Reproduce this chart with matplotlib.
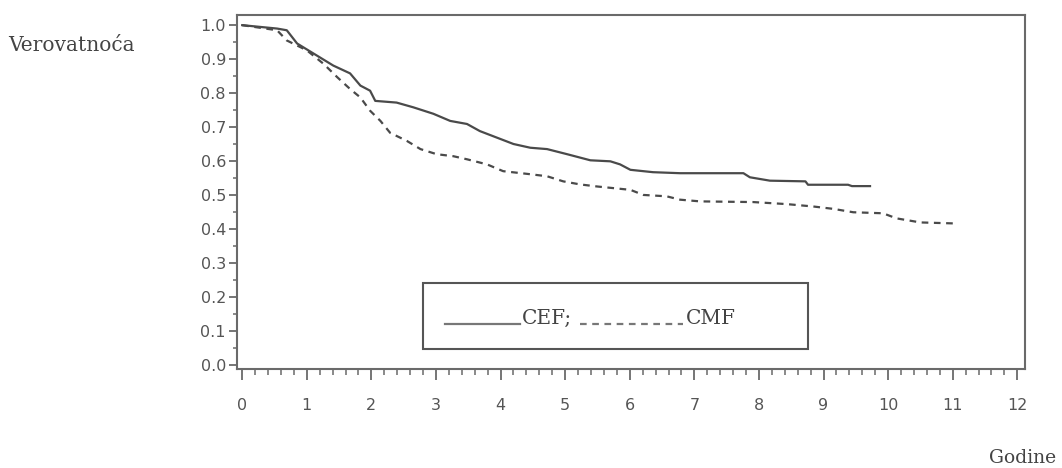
import matplotlib
matplotlib.use("Agg")
import matplotlib.pyplot as plt
from matplotlib.patches import Rectangle
from matplotlib.lines import Line2D
from matplotlib.ticker import MultipleLocator, FormatStrFormatter

# survival curves (years, probability)
cef_years = [0.0, 0.54, 0.69, 0.85, 1.10, 1.41, 1.67, 1.83, 1.98, 2.06, 2.39,
             2.65, 2.96, 3.22, 3.48, 3.68, 3.94, 4.20, 4.46, 4.72, 5.03, 5.39,
             5.70, 5.85, 6.01, 6.36, 6.78, 7.76, 7.86, 8.17, 8.72, 8.76, 9.38,
             9.44, 9.72]
cef_prob = [1.0, 0.99, 0.985, 0.946, 0.917, 0.881, 0.858, 0.822, 0.807, 0.777,
            0.772, 0.758, 0.739, 0.718, 0.709, 0.688, 0.669, 0.650, 0.639,
            0.635, 0.620, 0.602, 0.599, 0.590, 0.574, 0.567, 0.564, 0.564,
            0.552, 0.542, 0.540, 0.530, 0.530, 0.526, 0.526]

cmf_years = [0.0, 0.54, 0.69, 1.00, 1.26, 1.47, 1.67, 1.83, 1.98, 2.14, 2.29,
             2.55, 2.76, 3.01, 3.27, 3.48, 3.79, 4.04, 4.46, 4.72, 4.97, 5.23,
             5.49, 6.01, 6.21, 6.57, 6.78, 7.09, 7.91, 8.43, 8.84, 9.15, 9.46,
             9.92, 10.13, 10.50, 11.04]
cmf_prob = [1.0, 0.985, 0.955, 0.926, 0.886, 0.847, 0.812, 0.787, 0.748, 0.718,
            0.683, 0.659, 0.635, 0.620, 0.614, 0.605, 0.590, 0.570, 0.561,
            0.555, 0.540, 0.531, 0.525, 0.515, 0.500, 0.496, 0.486, 0.481,
            0.479, 0.473, 0.466, 0.459, 0.449, 0.446, 0.431, 0.419, 0.416]

x_ticks = list(range(0, 13))
y_ticks = [0.0, 0.1, 0.2, 0.3, 0.4, 0.5, 0.6, 0.7, 0.8, 0.9, 1.0]

line_color = "#4a4a4a"
axis_color = "#6a6a6a"
serif = "DejaVu Serif"

fig = plt.figure(figsize=(10.62, 4.68), dpi=100)
ax = fig.add_axes([0.2232, 0.212, 0.742, 0.756])

ax.plot(cef_years, cef_prob, color=line_color, linewidth=1.6)
ax.plot(cmf_years, cmf_prob, color=line_color, linewidth=1.6,
        linestyle=(0, (3, 2.5)))

ax.set_xlim(-0.08, 12.12)
ax.set_ylim(-0.012, 1.03)

ax.set_xticks(x_ticks)
ax.set_yticks(y_ticks)
ax.xaxis.set_minor_locator(MultipleLocator(0.2))
ax.yaxis.set_minor_locator(MultipleLocator(0.05))
ax.yaxis.set_major_formatter(FormatStrFormatter("%.1f"))

for spine in ax.spines.values():
    spine.set_color(axis_color)
    spine.set_linewidth(1.5)

ax.tick_params(axis="x", which="major", length=8, width=1.3, pad=13,
               colors=axis_color, labelsize=11.5, labelcolor="#555555")
ax.tick_params(axis="x", which="minor", length=4.5, width=1.1,
               colors=axis_color)
ax.tick_params(axis="y", which="major", length=6, width=1.3, pad=2,
               colors=axis_color, labelsize=11.5, labelcolor="#555555")
ax.tick_params(axis="y", which="minor", length=3, width=1.1,
               colors=axis_color)
for lbl in ax.get_xticklabels() + ax.get_yticklabels():
    lbl.set_family("DejaVu Sans")

# legend box drawn by hand, like the original
ax.add_patch(Rectangle((0.236, 0.0565), 0.489, 0.1865, transform=ax.transAxes,
                       fill=False, edgecolor="#555555", linewidth=1.5))
ax.add_line(Line2D([0.264, 0.359], [0.127, 0.127], transform=ax.transAxes,
                   color="#777777", linewidth=1.6))
ax.add_line(Line2D([0.435, 0.566], [0.127, 0.127], transform=ax.transAxes,
                   color="#777777", linewidth=1.6, linestyle=(0, (3, 2.5))))
ax.text(0.362, 0.127, "CEF;", transform=ax.transAxes, family=serif,
        fontsize=14.5, color="#444444", va="baseline", ha="left")
ax.text(0.569, 0.127, "CMF", transform=ax.transAxes, family=serif,
        fontsize=14.5, color="#444444", va="baseline", ha="left")

fig.text(0.008, 0.903, "Verovatnoća", family=serif, fontsize=14.5,
         color="#444444", va="center", ha="left")
fig.text(0.994, 0.021, "Godine", family=serif, fontsize=13.5,
         color="#444444", va="center", ha="right")

fig.savefig("out.png", dpi=100)
